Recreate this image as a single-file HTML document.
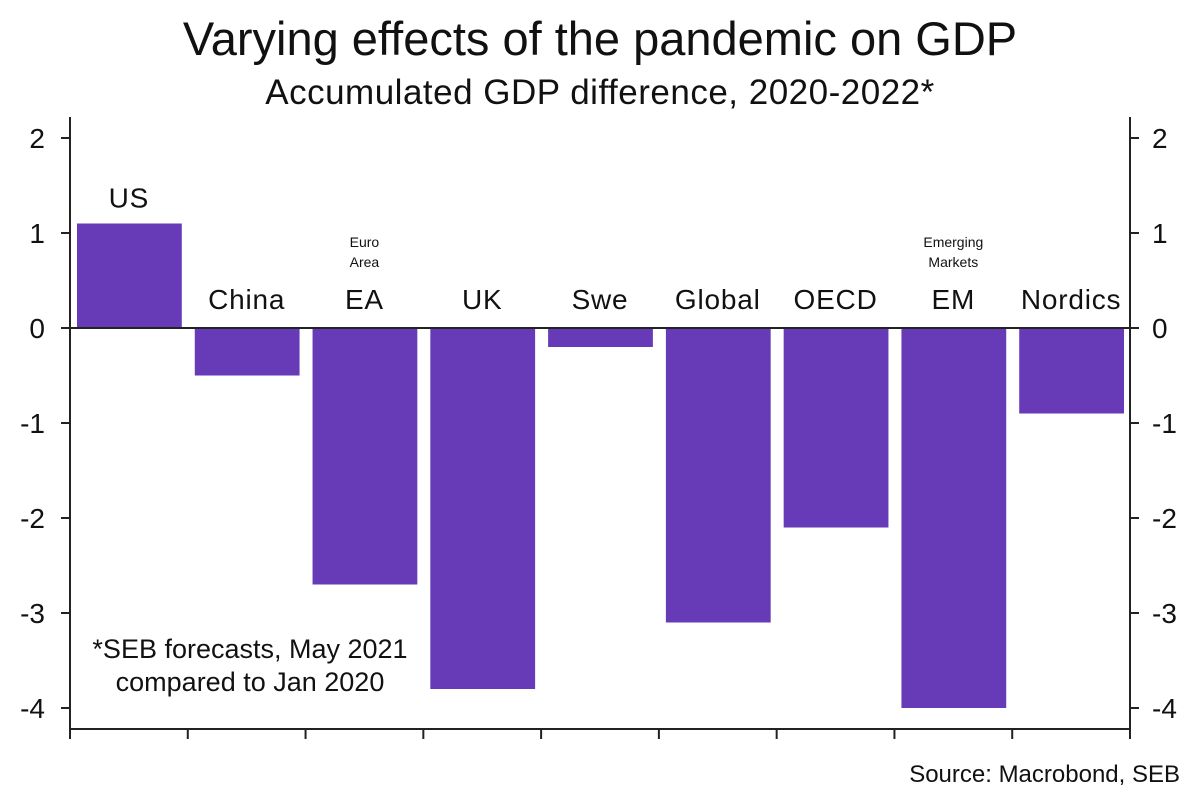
<!DOCTYPE html>
<html><head><meta charset="utf-8"><style>
body{margin:0;background:#fff;}
svg text{font-family:"Liberation Sans",sans-serif;fill:#111;}
</style></head><body>
<svg width="1200" height="796" viewBox="0 0 1200 796">
<text x="600" y="55" text-anchor="middle" font-size="47">Varying effects of the pandemic on GDP</text>
<text x="600" y="104" text-anchor="middle" font-size="35" letter-spacing="0.5">Accumulated GDP difference, 2020-2022*</text>
<g id="plot"></g>
<text x="250" y="658" text-anchor="middle" font-size="27">*SEB forecasts, May 2021</text>
<text x="250" y="691" text-anchor="middle" font-size="27">compared to Jan 2020</text>
<text x="1180" y="782" text-anchor="end" font-size="24">Source: Macrobond, SEB</text>
</svg>
<script>
const categories=["US","China","EA","UK","Swe","Global","OECD","EM","Nordics"];
const values=[1.1,-0.5,-2.7,-3.8,-0.2,-3.1,-2.1,-4.0,-0.9];
const notes=["","","Euro|Area","","","","","Emerging|Markets",""];
const yTicks=[2,1,0,-1,-2,-3,-4];
const NS="http://www.w3.org/2000/svg";
const g=document.getElementById('plot');
const L=70,R=1130,T=117,B=729;
const y=v=>328-v*95;
const bw=(R-L)/categories.length;
const x=i=>L+i*bw;
function el(t,a){const e=document.createElementNS(NS,t);for(const k in a)e.setAttribute(k,a[k]);g.appendChild(e);return e;}
categories.forEach((c,i)=>{
  const v=values[i];
  const r=el('rect',{x:x(i)+7,y:Math.min(y(v),y(0)),width:bw-13,height:Math.abs(y(v)-y(0)),fill:'#673ab7'});
  
  
  const ly=v>0?y(v)-16:y(0)-19;
  const t=el('text',{x:x(i)+bw/2,y:ly,'text-anchor':'middle','font-size':28,'letter-spacing':0.8});
  t.textContent=c;
  
  
  if(notes[i]){notes[i].split('|').forEach((n,j)=>{
    const s=el('text',{x:x(i)+bw/2,y:247+j*20,'text-anchor':'middle','font-size':14});
    s.textContent=n;
    
    
  });}
});
const ax=[['line',{x1:L,y1:T,x2:L,y2:B}],['line',{x1:R,y1:T,x2:R,y2:B}],['line',{x1:L,y1:B,x2:R,y2:B}],['line',{x1:L-9,y1:y(0),x2:R+9,y2:y(0)}]];
ax.forEach(([t,a])=>{const e=el(t,Object.assign(a,{stroke:'#222','stroke-width':2}));

});
yTicks.forEach(v=>{
  [[L-9,L,L-25,'end'],[R,R+9,R+22,'start']].forEach(([a,b,tx,an])=>{
    const l=el('line',{x1:a,x2:b,y1:y(v),y2:y(v),stroke:'#222','stroke-width':2});
    
    
    const t=el('text',{x:tx,y:y(v)+10,'text-anchor':an,'font-size':28});
    t.textContent=v;
    
    
  });
});
for(let i=0;i<=categories.length;i++){
  const l=el('line',{x1:x(i),x2:x(i),y1:B,y2:B+10,stroke:'#222','stroke-width':2});
  
  
}
</script>
</body></html>
